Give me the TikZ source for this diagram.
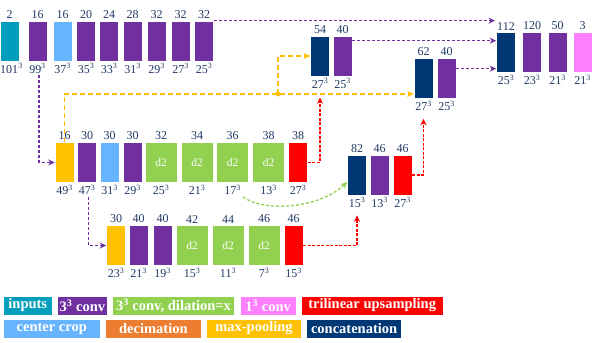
\documentclass[tikz,border=0pt]{standalone}
\usepackage{fontspec}
\setmainfont{Liberation Serif}
\usepackage{tikz}
\usetikzlibrary{arrows.meta,positioning,calc}
\definecolor{cTeal}{RGB}{0,158,186}
\definecolor{cPurple}{RGB}{112,48,160}
\definecolor{cLBlue}{RGB}{102,179,255}
\definecolor{cGreen}{RGB}{146,208,80}
\definecolor{cPink}{RGB}{255,128,255}
\definecolor{cRed}{RGB}{255,0,0}
\definecolor{cOrange}{RGB}{237,125,49}
\definecolor{cYellow}{RGB}{255,192,0}
\definecolor{cNavy}{RGB}{0,56,118}
\definecolor{cText}{RGB}{31,56,100}
\newcommand{\cubsz}[1]{#1\textsuperscript{3}}

\begin{document}
\begin{tikzpicture}[x=1pt, y=-1pt,
	blk/.style={draw=white, line width=0.6pt, minimum width=19pt, minimum height=40pt, inner sep=0pt},
	dil/.style={blk, fill=cGreen, minimum width=32pt, text=white, font=\fontsize{11.5}{13}\selectfont},
	lab/.style={text=cText, inner sep=2pt, font=\fontsize{12}{13}\selectfont},
	leg/.style={draw=white, line width=0.6pt, minimum height=19pt, inner sep=1pt, text=white, font=\fontsize{14.5}{16}\selectfont\bfseries},
	tipp/.style={-{Stealth[length=6.5pt,width=6pt]}},
	pdash/.style={tipp, draw=cPurple, line width=1.3pt, dash pattern=on 3pt off 2pt},
	ydash/.style={tipp, draw=cYellow, line width=1.3pt, dash pattern=on 5pt off 3pt},
	rdash/.style={tipp, draw=cRed, line width=1.3pt, dash pattern=on 3pt off 1.5pt},
	gdash/.style={tipp, draw=cGreen, line width=1.3pt, dash pattern=on 3pt off 2pt}]
	\useasboundingbox (0,0) rectangle (598,343);
	
	% 第一行
	\node[blk, fill=cTeal, label={[lab]above:2}, label={[lab,xshift=2pt]below:\cubsz{101}}] (A1) at (9.5,41) {};
	\node[blk, fill=cPurple, label={[lab]above:16}, label={[lab,name=S2]below:\cubsz{99}}] (A2) at (37.5,41) {};
	\node[blk, fill=cLBlue, label={[lab]above:16}, label={[lab]below:\cubsz{37}}] (A3) at (62.5,41) {};
	\node[blk, fill=cPurple, label={[lab]above:20}, label={[lab]below:\cubsz{35}}] (A4) at (86,41) {};
	\node[blk, fill=cPurple, label={[lab]above:24}, label={[lab]below:\cubsz{33}}] (A5) at (109,41) {};
	\node[blk, fill=cPurple, label={[lab]above:28}, label={[lab]below:\cubsz{31}}] (A6) at (132.5,41) {};
	\node[blk, fill=cPurple, label={[lab]above:32}, label={[lab]below:\cubsz{29}}] (A7) at (156.5,41) {};
	\node[blk, fill=cPurple, label={[lab]above:32}, label={[lab]below:\cubsz{27}}] (A8) at (180.5,41) {};
	\node[blk, fill=cPurple, label={[lab]above:32}, label={[lab]below:\cubsz{25}}] (A9) at (204,41) {};
	
	% 上采样后的拼接
	\node[blk, fill=cNavy, label={[lab]above:54}, label={[lab]below:\cubsz{27}}] (D1) at (320,56) {};
	\node[blk, fill=cPurple, label={[lab]above:40}, label={[lab]below:\cubsz{25}}] (D2) at (342.5,56) {};
	\node[blk, fill=cNavy, label={[lab]above:62}, label={[lab]below:\cubsz{27}}] (E1) at (423.5,78.5) {};
	\node[blk, fill=cPurple, label={[lab]above:40}, label={[lab]below:\cubsz{25}}] (E2) at (446.5,78.5) {};
	
	% 输出
	\node[blk, fill=cNavy, label={[lab,name=T112]above:112}, label={[lab]below:\cubsz{25}}] (F1) at (506,52.5) {};
	\node[blk, fill=cPurple, label={[lab]above:120}, label={[lab]below:\cubsz{23}}] (F2) at (532,52.5) {};
	\node[blk, fill=cPurple, label={[lab]above:50}, label={[lab]below:\cubsz{21}}] (F3) at (557.5,52.5) {};
	\node[blk, fill=cPink, label={[lab]above:3}, label={[lab]below:\cubsz{21}}] (F4) at (582.5,52.5) {};
	
	% 第二行
	\node[blk, fill=cYellow, label={[lab]above:16}, label={[lab]below:\cubsz{49}}] (B1) at (64.5,162.5) {};
	\node[blk, fill=cPurple, label={[lab]above:30}, label={[lab,name=SB2]below:\cubsz{47}}] (B2) at (87,162.5) {};
	\node[blk, fill=cLBlue, label={[lab]above:30}, label={[lab]below:\cubsz{31}}] (B3) at (109.5,162.5) {};
	\node[blk, fill=cPurple, label={[lab]above:30}, label={[lab]below:\cubsz{29}}] (B4) at (132.5,162.5) {};
	\node[dil, label={[lab]above:32}, label={[lab]below:\cubsz{25}}] (B5) at (161,162.5) {d2};
	\node[dil, label={[lab]above:34}, label={[lab]below:\cubsz{21}}] (B6) at (197,162.5) {d2};
	\node[dil, label={[lab]above:36}, label={[lab,name=SB7]below:\cubsz{17}}] (B7) at (232.5,162.5) {d2};
	\node[dil, label={[lab]above:38}, label={[lab]below:\cubsz{13}}] (B8) at (268.5,162.5) {d2};
	\node[blk, fill=cRed, label={[lab]above:38}, label={[lab]below:\cubsz{27}}] (B9) at (298,162.5) {};
	
	% 中间拼接
	\node[blk, fill=cNavy, label={[lab]above:82}, label={[lab]below:\cubsz{15}}] (M1) at (357,175) {};
	\node[blk, fill=cPurple, label={[lab]above:46}, label={[lab]below:\cubsz{13}}] (M2) at (379.5,175) {};
	\node[blk, fill=cRed, label={[lab]above:46}, label={[lab]below:\cubsz{27}}] (M3) at (402.5,175) {};
	
	% 第三行
	\node[blk, fill=cYellow, label={[lab]above:30}, label={[lab]below:\cubsz{23}}] (C1) at (116,245.5) {};
	\node[blk, fill=cPurple, label={[lab]above:40}, label={[lab]below:\cubsz{21}}] (C2) at (138.5,245.5) {};
	\node[blk, fill=cPurple, label={[lab]above:40}, label={[lab]below:\cubsz{19}}] (C3) at (162.5,245.5) {};
	\node[dil, label={[lab]above:42}, label={[lab]below:\cubsz{15}}] (C4) at (192,245.5) {d2};
	\node[dil, label={[lab]above:44}, label={[lab]below:\cubsz{11}}] (C5) at (228,245.5) {d2};
	\node[dil, label={[lab]above:46}, label={[lab]below:\cubsz{7}}] (C6) at (264,245.5) {d2};
	\node[blk, fill=cRed, label={[lab]above:46}, label={[lab]below:\cubsz{15}}] (C7) at (293.5,245.5) {};
	
	% 紫色跳连
	\draw[pdash] (A9.north east) -- (A9.north east -| T112.west);
	\draw[pdash] ([yshift=-5pt]D2.north east) -- ([yshift=-5pt]D2.north east -| F1.west);
	\draw[pdash] ([yshift=-10.5pt]E2.north east) -- ([yshift=-10.5pt]E2.north east -| F1.west);
	\draw[pdash] ([xshift=1.5pt]S2.south) |- (B1.west);
	\draw[pdash] ([xshift=1.5pt]SB2.south) |- (C1.west);
	
	% 黄色最大池化分支
	\coordinate (J) at (278,94);
	\draw[ydash] (B1.north) |- (J -| E1.west);
	\draw[ydash] (J) |- (D1.west);
	\fill[cYellow] (J) circle (2.5pt);
	
	% 红色上采样
	\draw[rdash] (B9.east) -| ([yshift=-21pt]D1.south);
	\draw[rdash] (M3.east) -| ([yshift=-20pt]E1.south);
	\draw[rdash] (C7.east) -| ([yshift=-20pt]M1.south);
	
	% 绿色
	\draw[gdash] (SB7.south east) .. controls (265,213) and (320,208) .. ([yshift=-7pt]M1.west);
	
	% 图例
	\node[leg, fill=cTeal, minimum width=49pt, anchor=west] (L1) at (3,305.5) {inputs};
	\node[leg, fill=cPurple, minimum width=50pt, right=4.5pt of L1] (L2) {3\textsuperscript{3} conv};
	\node[leg, fill=cGreen, minimum width=122pt, right=4.5pt of L2] (L3) {3\textsuperscript{3} conv, dilation=x};
	\node[leg, fill=cPink, minimum width=56pt, right=5pt of L3] (L4) {1\textsuperscript{3} conv};
	\node[leg, fill=cRed, minimum width=142pt, right=4.5pt of L4] (L5) {trilinear upsampling};
	\node[leg, fill=cLBlue, minimum width=97pt, anchor=west] (R1) at (3,328.5) {center crop};
	\node[leg, fill=cOrange, minimum width=96pt, right=4.5pt of R1] (R2) {decimation};
	\node[leg, fill=cYellow, minimum width=95pt, right=4.5pt of R2] (R3) {max-pooling};
	\node[leg, fill=cNavy, minimum width=95pt, right=4.5pt of R3] (R4) {concatenation};
\end{tikzpicture}
\end{document}
